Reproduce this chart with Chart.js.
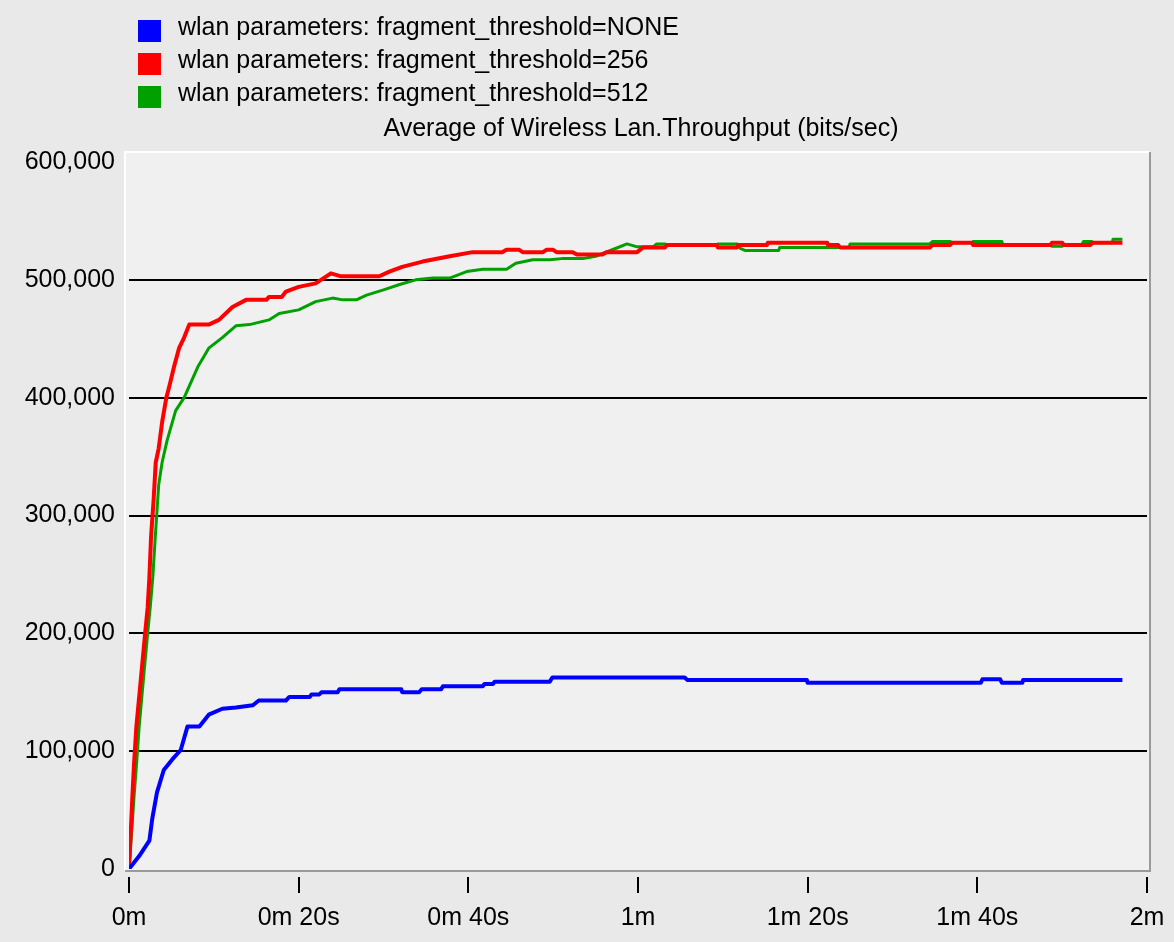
<!DOCTYPE html>
<html>
<head>
<meta charset="utf-8">
<script src="https://cdn.jsdelivr.net/npm/chart.js@4.4.1/dist/chart.umd.min.js"></script>
<style>
  html, body { margin: 0; padding: 0; background: #e9e9e9; }
  #wrap { width: 1174px; height: 942px; }
</style>
</head>
<body>
<div id="wrap"><canvas id="myChart" width="1174" height="942"></canvas></div>
<script>
// series names, in legend order
const seriesNames = [
  "wlan parameters: fragment_threshold=NONE",
  "wlan parameters: fragment_threshold=256",
  "wlan parameters: fragment_threshold=512"
];
const seriesColors = ["#0000ff", "#ff0000", "#00a000"];
const chartTitle = "Average of Wireless Lan.Throughput (bits/sec)";

// time in seconds, throughput in bits/sec
const noneTime = [0, 1.2, 2.4, 2.75, 3.3, 4.1, 5.1, 6.1, 6.9, 8.3,
  9.4, 11, 12.6, 14.6, 15.3, 18.5, 18.9, 21.3, 21.5, 22.4,
  22.7, 24.6, 24.8, 32.1, 32.2, 34.2, 34.5, 36.8, 37, 41.7,
  41.9, 42.9, 43.1, 49.6, 49.9, 65.5, 65.8, 79.9, 80, 100.4,
  100.6, 102.7, 102.9, 105.3, 105.4, 117.1];
const noneBps = [0, 11000, 24000, 43000, 65000, 84000, 93000, 101000, 121000, 121000,
  131000, 136000, 137000, 139000, 143000, 143000, 146000, 146000, 148000, 148000,
  150000, 150000, 152500, 152500, 150000, 150000, 152500, 152500, 155000, 155000,
  157000, 157000, 159000, 159000, 162500, 162500, 160500, 160500, 158000, 158000,
  161000, 161000, 158000, 158000, 160500, 160500];

const frag256Time = [0, 0.2, 0.4, 0.6, 0.87, 1.5, 1.9, 2.2, 2.4, 2.6,
  2.9, 3.15, 3.5, 3.9, 4.4, 4.8, 5.3, 5.9, 6.5, 7.1,
  9.4, 10.6, 12.2, 13.8, 16.2, 16.5, 18, 18.5, 20, 22,
  23.8, 25, 29.5, 30.7, 32.2, 34.6, 37.8, 40.5, 44, 44.5,
  46, 46.4, 48.8, 49.2, 50, 50.4, 52.3, 52.8, 55.8, 56.3,
  59.9, 60.6, 63.2, 63.4, 69.3, 69.4, 71.7, 71.8, 75.2, 75.3,
  82.3, 82.4, 83.6, 83.8, 94.4, 94.7, 96.8, 97, 99.4, 99.5,
  108.6, 108.8, 110, 110.2, 113.3, 113.6, 117.1];
const frag256Bps = [0, 30000, 62000, 90000, 121000, 169000, 200000, 222000, 247000, 282000,
  313000, 345000, 357000, 379000, 400000, 411000, 426000, 442000, 451000, 462000,
  462000, 466000, 477000, 483000, 483000, 485500, 485500, 490000, 494000, 497000,
  505500, 503000, 503000, 507000, 511000, 515500, 520000, 523500, 523500, 525500,
  525500, 523500, 523500, 525500, 525500, 523500, 523500, 521500, 521500, 523500,
  523500, 527500, 527500, 529500, 529500, 527500, 527500, 529500, 529500, 531500,
  531500, 529500, 529500, 527500, 527500, 529500, 529500, 531500, 531500, 529500,
  529500, 531500, 531500, 529500, 529500, 531500, 531500];

const frag512Time = [0, 0.3, 0.6, 0.9, 1.2, 1.8, 2.2, 2.5, 2.8, 3.1,
  3.5, 3.9, 4.5, 5.5, 6.5, 8.1, 9.4, 11, 12.6, 14.2,
  16.5, 17.7, 20, 22, 24, 25.2, 26.8, 28, 30, 31.9,
  33.8, 35.8, 37.8, 39.8, 41.7, 44.5, 45.6, 47.6, 49.6, 51,
  53.5, 55, 57.5, 58.7, 59.9, 61.8, 62.2, 63.2, 63.4, 69.3,
  69.4, 71.7, 72, 72.6, 76.6, 76.7, 84.9, 85, 94.4, 94.7,
  96.8, 97, 99.4, 99.5, 102.9, 103, 108.6, 108.8, 110, 110.2,
  112.3, 112.5, 113.5, 113.6, 115.9, 116, 117.1];
const frag512Bps = [0, 30000, 62000, 90000, 121000, 169000, 200000, 222000, 247000, 282000,
  326000, 345000, 364000, 389000, 400000, 426000, 442000, 451000, 461000, 462000,
  466000, 471500, 474500, 481500, 484500, 483000, 483000, 487000, 491500, 496000,
  500000, 501500, 501500, 507000, 509000, 509000, 514000, 517000, 517000, 518000,
  518000, 520000, 527000, 530500, 528000, 528000, 530500, 530500, 529500, 529500,
  530500, 530500, 527000, 525000, 525000, 527500, 527500, 530500, 530500, 532500,
  532500, 531500, 531500, 532500, 532500, 529500, 529500, 528500, 528500, 529500,
  529500, 532500, 532500, 531500, 531500, 534500, 534500];

const yTickStep = 100000;
const yMax = 600000;
const xTickStep = 20;
const xMax = 120;

const FONT = "'Liberation Sans', Arial, sans-serif";

function toPoints(times, values) {
  return times.map((t, i) => ({ x: t, y: values[i] }));
}

function formatTime(v) {
  const m = Math.floor(v / 60);
  const s = v % 60;
  return s === 0 ? m + "m" : m + "m " + s + "s";
}

// background, plot box, legend, title and x tick marks
const frame = {
  id: "frame",
  beforeDraw(chart) {
    const ctx = chart.ctx;
    const a = chart.chartArea;
    ctx.save();
    ctx.fillStyle = "#e9e9e9";
    ctx.fillRect(0, 0, chart.width, chart.height);
    const l = a.left - 4, t = a.top - 10, r = a.right + 3, b = a.bottom + 2;
    ctx.fillStyle = "#f0f0f0";
    ctx.fillRect(l, t, r - l, b - t);
    ctx.lineWidth = 2;
    ctx.strokeStyle = "#ffffff";
    ctx.beginPath();
    ctx.moveTo(l, b);
    ctx.lineTo(l, t);
    ctx.lineTo(r, t);
    ctx.stroke();
    ctx.strokeStyle = "#9a9a9a";
    ctx.beginPath();
    ctx.moveTo(r, t);
    ctx.lineTo(r, b);
    ctx.lineTo(l, b);
    ctx.stroke();
    ctx.restore();
  },
  afterDraw(chart) {
    const ctx = chart.ctx;
    const a = chart.chartArea;
    ctx.save();
    // legend
    ctx.font = "25px " + FONT;
    ctx.textBaseline = "alphabetic";
    ctx.textAlign = "left";
    seriesNames.forEach((name, i) => {
      const cy = 31 + i * 33;
      ctx.fillStyle = seriesColors[i];
      ctx.fillRect(138, cy - 11, 23, 22);
      ctx.fillStyle = "#000";
      ctx.fillText(name, 178, cy + 4);
    });
    // title
    ctx.textAlign = "center";
    ctx.fillText(chartTitle, (a.left + a.right) / 2 + 3, 136);
    // x tick marks below the plot box
    const xs = chart.scales.x;
    ctx.strokeStyle = "#000";
    ctx.lineWidth = 2;
    xs.ticks.forEach(tk => {
      const px = Math.round(xs.getPixelForValue(tk.value));
      ctx.beginPath();
      ctx.moveTo(px, a.bottom + 8);
      ctx.lineTo(px, a.bottom + 24);
      ctx.stroke();
    });
    ctx.restore();
  }
};

const graph = document.querySelector("#myChart");
const myChart = new Chart(graph, {
  type: "line",
  data: {
    datasets: [
      {
        label: seriesNames[0],
        data: toPoints(noneTime, noneBps),
        borderColor: seriesColors[0],
        borderWidth: 4,
      },
      {
        label: seriesNames[1],
        data: toPoints(frag256Time, frag256Bps),
        borderColor: seriesColors[1],
        borderWidth: 4,
      },
      {
        label: seriesNames[2],
        data: toPoints(frag512Time, frag512Bps),
        borderColor: seriesColors[2],
        borderWidth: 3,
      },
    ],
  },
  options: {
    responsive: false,
    animation: false,
    events: [],
    elements: {
      point: { radius: 0 },
      line: { tension: 0, borderJoinStyle: "round", borderCapStyle: "butt" },
    },
    layout: { padding: { top: 162, right: 27, bottom: 0, left: 0 } },
    plugins: {
      legend: { display: false },
      title: { display: false },
      tooltip: { enabled: false },
    },
    scales: {
      x: {
        type: "linear",
        min: 0,
        max: xMax,
        afterFit(scale) {
          scale.height = 73;
          scale.paddingLeft = 0;
          scale.paddingRight = 0;
        },
        border: { display: false },
        grid: { display: false, drawTicks: false },
        ticks: {
          stepSize: xTickStep,
          maxRotation: 0,
          autoSkip: false,
          padding: 34,
          color: "#000",
          font: { family: FONT, size: 25 },
          callback: (v) => formatTime(v),
        },
      },
      y: {
        min: 0,
        max: yMax,
        afterFit(scale) {
          scale.width = 129;
          scale.paddingTop = 0;
          scale.paddingBottom = 0;
        },
        border: { display: false },
        grid: {
          drawTicks: false,
          lineWidth: 2,
          color: (c) => (c.tick && (c.tick.value === 0 || c.tick.value === yMax) ? "rgba(0,0,0,0)" : "#000"),
        },
        ticks: {
          stepSize: yTickStep,
          padding: 14,
          color: "#000",
          font: { family: FONT, size: 25 },
          callback: (v) => v.toLocaleString("en-US"),
        },
      },
    },
  },
  plugins: [frame],
});
</script>
</body>
</html>
